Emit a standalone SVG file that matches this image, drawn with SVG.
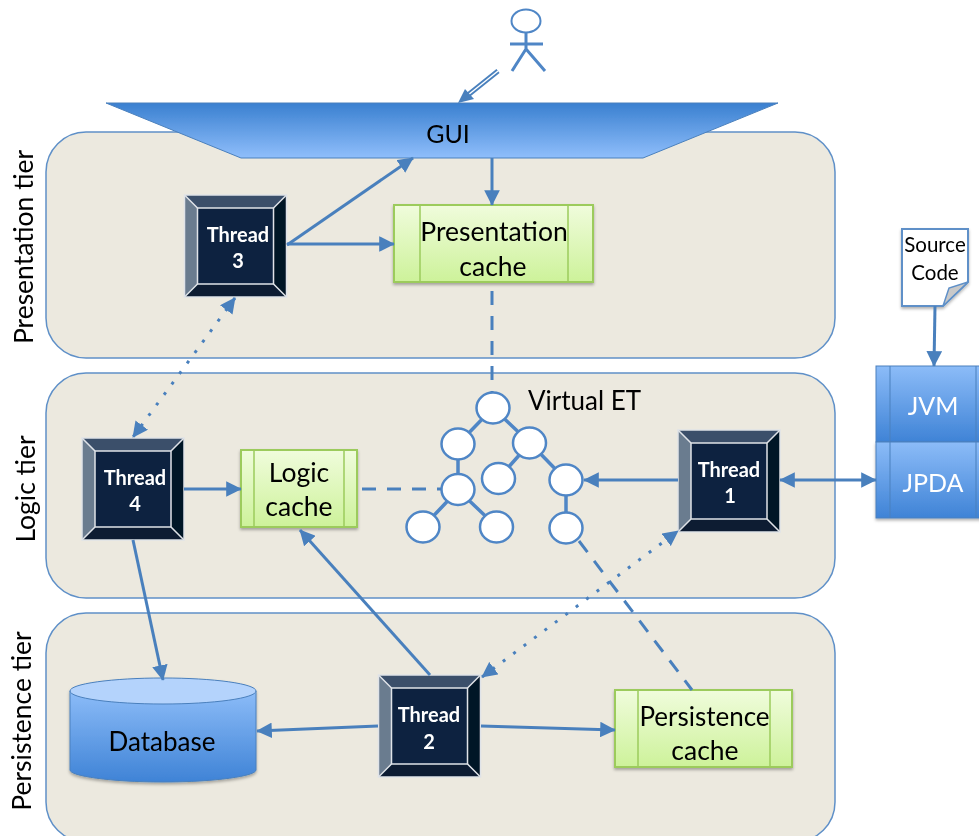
<svg xmlns="http://www.w3.org/2000/svg" width="979" height="836" viewBox="0 0 979 836">
<style>
text{font-family:Lato,"Liberation Sans",sans-serif;text-anchor:middle}
.tier{fill:#ece9df;stroke:#5f90c8;stroke-width:1.5}
.lbl{font-size:25px;fill:#000}
.big{font-size:26.5px;fill:#000}
.wht{font-size:20px;fill:#fff;font-weight:700}
.con{fill:none;stroke:#4a80bd;stroke-width:3}
.dash{stroke-dasharray:14 11}
.dot{stroke-dasharray:3 10}
.cache{fill:url(#gGreen);stroke:#9ccb5c;stroke-width:2;filter:url(#sh)}
.cl{stroke:#9ccb5c;stroke-width:1.5;fill:none}
.tree{fill:#fff;stroke:#4f86c6;stroke-width:2.5}
.tl{stroke:#4f86c6;stroke-width:3.5;fill:none}
.bm{fill:#0c2340;stroke:#dfe3e8;stroke-width:1.5}
.bl{stroke:#dfe3e8;stroke-width:1.5;fill:none}
.blue{fill:url(#gBlue);stroke:#4a80bd;stroke-width:1}
</style>
<defs>
<linearGradient id="gGui" x1="0" y1="0" x2="0" y2="1"><stop offset="0" stop-color="#3a80d0"/><stop offset="1" stop-color="#8fbefb"/></linearGradient>
<linearGradient id="gBlue" x1="0" y1="0" x2="0" y2="1"><stop offset="0" stop-color="#8cbcf8"/><stop offset="1" stop-color="#3f83d6"/></linearGradient>
<linearGradient id="gGreen" x1="0" y1="0" x2="0" y2="1"><stop offset="0" stop-color="#f0fcdc"/><stop offset="1" stop-color="#cdf29a"/></linearGradient>
<filter id="sh" x="-10%" y="-10%" width="120%" height="125%"><feDropShadow dx="0" dy="2" stdDeviation="1.500" flood-color="#000" flood-opacity="0.3"/></filter>
<filter id="soft" filterUnits="userSpaceOnUse" x="0" y="0" width="979" height="836"><feGaussianBlur stdDeviation="0.5"/></filter>
<marker id="arr" viewBox="0 0 10 10" refX="9.5" refY="5" markerWidth="5.2" markerHeight="5.2" orient="auto-start-reverse"><path d="M0 0L10 5L0 10Z" fill="#4a80bd"/></marker>
<g id="thr">
<rect x="0" y="0" width="102" height="102" fill="#0c2340"/>
<path d="M0 0H102L89 13H13Z" fill="#3b4f6b"/>
<path d="M0 0V102L13 89V13Z" fill="#6b7b8f"/>
<path d="M102 0V102L89 89V13Z" fill="#061526"/>
<path d="M0 102H102L89 89H13Z" fill="#0a1c33"/>
<rect x="0" y="0" width="102" height="102" class="bl"/>
<rect x="13" y="13" width="76" height="76" class="bm"/>
<path d="M0 0L13 13M102 0L89 13M0 102L13 89M102 102L89 89" class="bl"/>
</g>
</defs>
<rect width="979" height="836" fill="#fff"/>
<g filter="url(#soft)">
<g id="tier-presentation"><rect class="tier" x="46" y="132" width="789" height="226" rx="40"/><text class="big" transform="translate(33,247) rotate(-90)">Presentation tier</text></g>
<g id="tier-logic"><rect class="tier" x="46" y="373" width="789" height="225" rx="40"/><text class="big" transform="translate(35,489) rotate(-90)">Logic tier</text></g>
<g id="tier-persistence"><rect class="tier" x="46" y="613" width="789" height="229" rx="40"/><text class="big" transform="translate(31,721) rotate(-90)">Persistence tier</text></g>

<g id="actor" fill="none" stroke="#4f86c6" stroke-width="3">
<ellipse cx="526" cy="21" rx="14.500" ry="11.500" stroke-width="2" fill="#fff"/>
<path d="M526 33V49M510 44H543M526 49L512 71M526 49L545 71"/>
</g>

<g id="gui"><polygon points="106,103 778,103 643,158 241,158" fill="url(#gGui)" stroke="#4a80bd" stroke-width="1"/><text class="lbl" x="448" y="143">GUI</text></g>

<g id="thread-3"><use href="#thr" x="184.500" y="195"/><text class="wht" x="238" y="242">Thread</text><text class="wht" x="238" y="268">3</text></g>
<g id="thread-4"><use href="#thr" x="82" y="438"/><text class="wht" x="135" y="485">Thread</text><text class="wht" x="135" y="511">4</text></g>
<g id="thread-1"><use href="#thr" x="678" y="430"/><text class="wht" x="729" y="477">Thread</text><text class="wht" x="730" y="503">1</text></g>
<g id="thread-2"><use href="#thr" x="378.500" y="675"/><text class="wht" x="429" y="722">Thread</text><text class="wht" x="429" y="749">2</text></g>

<g id="presentation-cache"><rect class="cache" x="394" y="205" width="199" height="77"/><path class="cl" d="M420 205V282M568 205V282"/><text class="big" x="494" y="241">Presentation</text><text class="big" x="493" y="276">cache</text></g>
<g id="logic-cache"><rect class="cache" x="241" y="450" width="116" height="77"/><path class="cl" d="M254 450V527M344 450V527"/><text class="big" x="299" y="482">Logic</text><text class="big" x="299" y="516">cache</text></g>
<g id="persistence-cache"><rect class="cache" x="615" y="690" width="177" height="77"/><path class="cl" d="M638 690V767M770 690V767"/><text class="lbl" x="704.500" y="726" style="font-size:26px">Persistence</text><text class="big" x="705" y="760">cache</text></g>

<g id="database" filter="url(#sh)"><path class="blue" d="M70 691V770C70 776 110 782 163 782C216 782 256 776 256 770V691Z"/><ellipse cx="163" cy="691" rx="93" ry="13" fill="#b4d3fc" stroke="#4a80bd"/><text class="lbl" x="162" y="751" style="font-size:26px">Database</text></g>

<g id="source-code"><path d="M902 229H968V282L943 306H902Z" fill="#fff" stroke="#5f90c8" stroke-width="2" filter="url(#sh)"/><path d="M968 282L949 288L943 306Z" fill="#c9c9c9" stroke="#5f90c8" stroke-width="1.500"/><text x="935" y="252" style="font-size:20.500px">Source</text><text x="935" y="280" style="font-size:20.500px">Code</text></g>

<g id="jvm"><rect class="blue" x="876" y="366" width="110" height="76"/><path d="M890 366V442M976 366V442" stroke="#4a80bd" stroke-width="1"/><text x="933" y="415" style="font-size:25px" fill="#fff">JVM</text></g>
<g id="jpda"><rect class="blue" x="876" y="442" width="110" height="76" filter="url(#sh)"/><path d="M890 442V518M976 442V518" stroke="#4a80bd" stroke-width="1"/><text x="933" y="492" style="font-size:25px" fill="#fff">JPDA</text></g>

<g id="virtual-et">
<path class="tl" d="M493 408L458 444M493 408L530 443M458 444V490M530 443L498 479M530 443L566 480M458 490L423 527M458 490L497 527M566 480V528"/>
<ellipse class="tree" cx="493" cy="408" rx="16.500" ry="15.500"/>
<ellipse class="tree" cx="458" cy="444" rx="16.500" ry="15.500"/>
<ellipse class="tree" cx="529.500" cy="443" rx="16.500" ry="15.500"/>
<ellipse class="tree" cx="458" cy="489.500" rx="16.500" ry="15.500"/>
<ellipse class="tree" cx="498.500" cy="478.500" rx="16.500" ry="15.500"/>
<ellipse class="tree" cx="566" cy="480" rx="16.500" ry="15.500"/>
<ellipse class="tree" cx="423" cy="527" rx="16.500" ry="15.500"/>
<ellipse class="tree" cx="496.500" cy="527" rx="16.500" ry="15.500"/>
<ellipse class="tree" cx="566" cy="528" rx="16.500" ry="15.500"/>
<text class="lbl" x="584.500" y="410" style="font-size:26px">Virtual ET</text>
</g>

<g id="connectors">
<path class="con" d="M492 158V205" marker-end="url(#arr)"/>
<path class="con" d="M287 245L413 158" marker-end="url(#arr)"/>
<path class="con" d="M287 244H394" marker-end="url(#arr)"/>
<path class="con dash" d="M492 291V392"/>
<path class="con dot" d="M235 298L133 437" marker-start="url(#arr)" marker-end="url(#arr)"/>
<path class="con" d="M184 489H241" marker-end="url(#arr)"/>
<path class="con dash" d="M362 489H441"/>
<path class="con" d="M678 480H584" marker-end="url(#arr)"/>
<path class="con" d="M780 480H876" marker-start="url(#arr)" marker-end="url(#arr)"/>
<path class="con" d="M133 540L163 680" marker-end="url(#arr)"/>
<path class="con" d="M430 675L300 530" marker-end="url(#arr)"/>
<path class="con dot" d="M482 677L678 531" marker-start="url(#arr)" marker-end="url(#arr)"/>
<path class="con dash" d="M579 541L692 690"/>
<path class="con" d="M378 726L257 731" marker-end="url(#arr)"/>
<path class="con" d="M481 726L615 730" marker-end="url(#arr)"/>
<path class="con" d="M935 306L934 366" marker-end="url(#arr)"/>
<path d="M498 71L468 95" fill="none" stroke="#4a80bd" stroke-width="5"/>
<path d="M498 71L468 95" fill="none" stroke="#fff" stroke-width="1.500"/>
<path d="M458 103L465 89L474 99Z" fill="#4a80bd"/>
</g>
</g>
</svg>
